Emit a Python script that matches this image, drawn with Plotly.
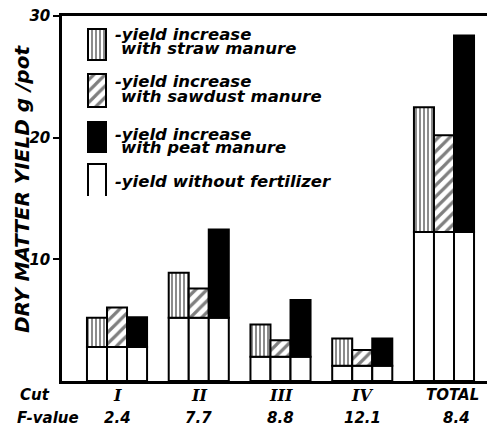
import plotly.graph_objects as go

# ---- data ----
cuts = ["I", "II", "III", "IV", "TOTAL"]
f_values = ["2.4", "7.7", "8.8", "12.1", "8.4"]
yield_no_fert = [2.8, 5.2, 2.0, 1.25, 12.25]          # yield without fertilizer
total_straw = [5.2, 8.9, 4.65, 3.5, 22.5]            # total height, straw manure
total_sawdust = [6.05, 7.6, 3.35, 2.55, 20.2]        # total height, sawdust manure
total_peat = [5.25, 12.45, 6.65, 3.5, 28.4]          # total height, peat manure
y_ticks = [10, 20, 30]

BW = 0.245  # bar width (x units)
FONT = "DejaVu Sans"
grp = list(range(len(cuts)))

# page has an 8px body margin; plot area wanted at page px x 62..495, y 16..381
OFF = 8
PX_L, PX_R, PX_T, PX_B = 62, 495, 16, 381
W, H = 495 - OFF, 429 - OFF

def paper_x(px):
    return (px - PX_L) / (PX_R - PX_L)

def paper_y(py):
    return (PX_B - py) / (PX_B - PX_T)

def py2(v):
    return PX_B - v

fig = go.Figure()

line = dict(color="black", width=2)
straw_pat = dict(shape="|", size=4, solidity=0.45, fgcolor="black", bgcolor="white")
saw_pat = dict(shape="/", size=8, solidity=0.4, fgcolor="black", bgcolor="white")
series = [
    ("straw", total_straw, -BW, straw_pat),
    ("sawdust", total_sawdust, 0.0, saw_pat),
    ("peat", total_peat, BW, None),
]
for name, tops, off, pat in series:
    xs = [g + off for g in grp]
    fig.add_trace(go.Bar(x=xs, y=yield_no_fert, width=BW, base=0,
                         marker=dict(color="white", line=line), showlegend=False,
                         hoverinfo="skip"))
    inc = [t - b for t, b in zip(tops, yield_no_fert)]
    mk = dict(color="black" if pat is None else "white", line=line)
    if pat is not None:
        mk["pattern"] = pat
    fig.add_trace(go.Bar(x=xs, y=inc, width=BW, base=yield_no_fert, marker=mk,
                         name=name, showlegend=False))

# ---- legend swatches on a pixel-like overlay axis ----
sw = [(29, 60, straw_pat, "white"), (74, 107, saw_pat, "white"), (122, 152, None, "black")]
for top, bot, pat, col in sw:
    mk = dict(color=col, line=line)
    if pat is not None:
        mk["pattern"] = pat
    fig.add_trace(go.Bar(x=[97], y=[bot - top], base=[py2(bot)], width=18,
                         marker=mk, xaxis="x2", yaxis="y2", showlegend=False,
                         hoverinfo="skip"))
fig.add_shape(type="path", xref="x2", yref="y2",
              path=f"M 88,{py2(196)} L 88,{py2(164)} L 106,{py2(164)} L 106,{py2(196)}",
              line=dict(color="black", width=2))

legend_text = [
    (113, 34, "-yield increase"), (119, 49, "with straw manure"),
    (113, 81, "-yield increase"), (119, 96, "with sawdust manure"),
    (113, 134, "-yield increase"), (119, 148, "with peat manure"),
    (113, 181, "-yield without fertilizer"),
]
lfont = dict(family=FONT, size=16.5, color="black", style="italic", weight="bold")
for x, y, t in legend_text:
    fig.add_annotation(x=paper_x(x), y=paper_y(y), xref="paper", yref="paper", text=t,
                       showarrow=False, xanchor="left", yanchor="middle", font=lfont)

# ---- category labels ----
cfont = dict(family="DejaVu Serif", size=16, color="black", style="italic", weight="bold")
nfont = dict(family=FONT, size=15, color="black", style="italic", weight="bold")
shift = [0, 0, 0, 0, 9]
for g, c, f, s in zip(grp, cuts, f_values, shift):
    fig.add_annotation(x=g, y=paper_y(395), xref="x", yref="paper", text=c, showarrow=False,
                       xanchor="center", yanchor="middle", xshift=s,
                       font=cfont if c != "TOTAL" else nfont)
    fig.add_annotation(x=g, y=paper_y(418), xref="x", yref="paper", text=f, showarrow=False,
                       xanchor="center", yanchor="middle", xshift=s + (4 if c == "TOTAL" else 0),
                       font=nfont)
fig.add_annotation(x=paper_x(18), y=paper_y(395), xref="paper", yref="paper", text="Cut",
                   showarrow=False, xanchor="left", yanchor="middle", font=nfont)
fig.add_annotation(x=paper_x(15), y=paper_y(418), xref="paper", yref="paper", text="F-value",
                   showarrow=False, xanchor="left", yanchor="middle", font=nfont)
fig.add_annotation(x=paper_x(22), y=paper_y(189), xref="paper", yref="paper",
                   text="DRY MATTER YIELD g /pot",
                   showarrow=False, textangle=-90, xanchor="center", yanchor="middle",
                   font=dict(family=FONT, size=20, color="black", style="italic", weight="bold"))

fig.update_layout(
    width=W, height=H,
    margin=dict(l=PX_L - OFF, r=0, t=PX_T - OFF, b=H - (PX_B - OFF), autoexpand=False),
    paper_bgcolor="white", plot_bgcolor="white",
    barmode="overlay", showlegend=False,
    xaxis=dict(range=[-0.673, 4.624], showline=True, linecolor="black", linewidth=2.5,
               mirror=True, showticklabels=False, ticks="", showgrid=False, zeroline=False),
    yaxis=dict(range=[0, 30], tickvals=y_ticks, ticks="outside", ticklen=6, tickwidth=2,
               tickcolor="black", showline=True, linecolor="black", linewidth=2.5,
               mirror=False, showgrid=False, zeroline=False, ticklabeloverflow="allow",
               tickfont=dict(family=FONT, size=15, color="black", style="italic", weight="bold")),
    xaxis2=dict(overlaying="x", range=[PX_L, PX_R], visible=False),
    yaxis2=dict(overlaying="y", range=[0, PX_B - PX_T], visible=False),
)

fig.write_html("out.html")
